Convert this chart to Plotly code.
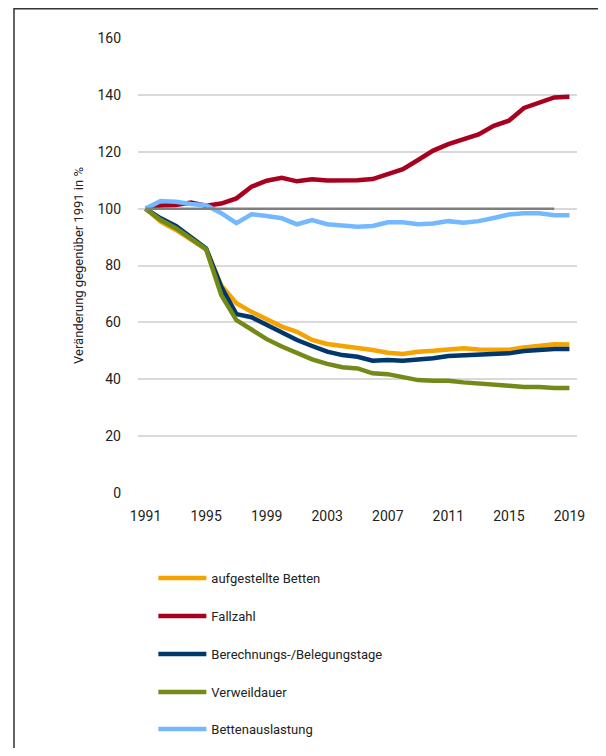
import plotly.graph_objects as go

years = list(range(1991, 2020))

# Index 1991 = 100
betten = [100, 95.4, 92.5, 89.0, 85.7, 73.0, 66.7, 63.7, 61.0, 58.5,
          56.7, 53.8, 52.4, 51.5, 51.0, 50.3, 49.3, 48.9, 49.7, 50.0,
          50.5, 50.9, 50.5, 50.5, 50.4, 51.2, 51.9, 52.3, 52.2]
fallzahl = [100, 101.1, 101.3, 102.1, 101.0, 101.8, 103.6, 107.7, 109.8, 110.8,
            109.6, 110.3, 109.9, 109.9, 110.0, 110.4, 112.0, 113.9, 117.1, 120.4,
            122.7, 124.3, 126.1, 129.1, 130.9, 135.4, 137.2, 139.1, 139.3]
belegungstage = [100, 96.6, 93.9, 90.1, 86.0, 72.5, 62.9, 61.8, 59.1, 56.7,
                 53.8, 51.7, 49.7, 48.5, 47.9, 46.5, 46.8, 46.5, 46.8, 47.4,
                 48.2, 48.5, 48.5, 48.9, 49.1, 49.9, 50.4, 50.6, 50.6]
verweildauer = [100, 96.0, 93.1, 89.2, 85.7, 69.6, 60.8, 57.5, 54.1, 51.5,
                49.1, 47.0, 45.4, 44.2, 43.8, 42.1, 41.8, 40.7, 39.7, 39.5,
                39.5, 38.9, 38.6, 38.1, 37.7, 37.3, 37.3, 36.9, 36.9]
auslastung = [100, 102.7, 102.4, 101.6, 101.2, 98.4, 94.9, 98.0, 97.4, 96.6,
              94.5, 96.0, 94.5, 94.0, 93.6, 93.9, 95.2, 95.2, 94.5, 94.8,
              95.6, 95.0, 95.6, 96.7, 97.9, 98.4, 98.4, 97.7, 97.7]
basis_years = list(range(1991, 2019))
basis = [100] * len(basis_years)

tick_years = [1991, 1995, 1999, 2003, 2007, 2011, 2015, 2019]
y_ticks = [0, 20, 40, 60, 80, 100, 120, 140, 160]

series = [
    ("aufgestellte Betten", betten, "#f5a300"),
    ("Fallzahl", fallzahl, "#a8001f"),
    ("Berechnungs-/Belegungstage", belegungstage, "#00386e"),
    ("Verweildauer", verweildauer, "#748a18"),
    ("Bettenauslastung", auslastung, "#74b8ff"),
]

fig = go.Figure()

# one legend per series so each entry sits exactly where it should
legend_y = [-0.1538, -0.2374, -0.3209, -0.4044, -0.4857]
legend_names = ["legend", "legend2", "legend3", "legend4", "legend5"]

for i, (name, vals, col) in enumerate(series):
    fig.add_trace(go.Scatter(
        x=years, y=vals, mode="lines", name=name,
        legend=legend_names[i],
        line=dict(color=col, width=4.5),
    ))

# Basislinie 100
fig.add_trace(go.Scatter(
    x=basis_years, y=basis, mode="lines", showlegend=False,
    line=dict(color="#7f7f7f", width=2.5),
))

# Rahmen (oben + links)
fig.add_shape(type="rect", xref="paper", yref="paper",
              x0=-0.2825, x1=2, y0=-2, y1=1.0643,
              line=dict(color="#333333", width=1.5), layer="below")

legends = {}
for name, ly in zip(legend_names, legend_y):
    legends[name] = dict(
        x=0.035, y=ly, xanchor="left", yanchor="top",
        orientation="v", itemwidth=48,
        font=dict(size=13), bgcolor="rgba(0,0,0,0)",
    )

# page body has 8px margin -> figure is 8px smaller and shifted
fig.update_layout(
    width=598, height=740,
    margin=dict(l=130, r=29, t=30, b=255, autoexpand=False),
    plot_bgcolor="white", paper_bgcolor="white",
    font=dict(family="Roboto", size=13, color="#222222"),
    xaxis=dict(
        range=[1990.5, 2019.5], tickvals=tick_years,
        showgrid=False, zeroline=False, showline=False,
        ticks="", ticklabelstandoff=13,
        tickfont=dict(size=14),
    ),
    yaxis=dict(
        range=[0, 160], tickvals=y_ticks,
        showgrid=True, gridcolor="#d9d9d9", gridwidth=1.5,
        zeroline=False, showline=False, ticks="",
        ticklabelstandoff=16, tickfont=dict(size=14),
        title=dict(text="Veränderung gegenüber 1991 in %",
                   font=dict(size=13), standoff=10),
    ),
    showlegend=True,
    **legends,
)

fig.write_html("out.html")
